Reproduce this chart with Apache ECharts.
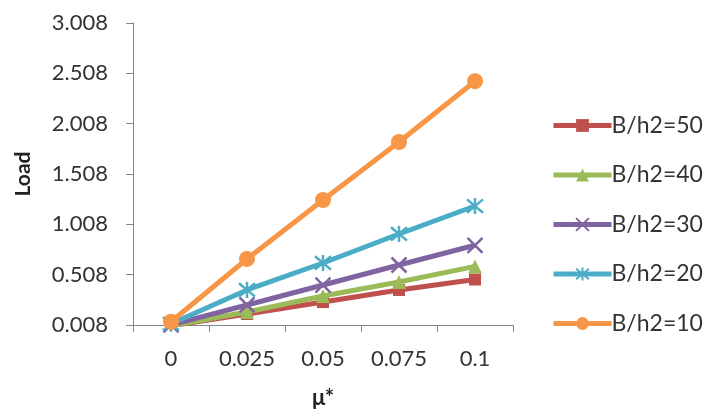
<!DOCTYPE html>
<html>
<head>
<meta charset="utf-8">
<script src="https://cdn.jsdelivr.net/npm/echarts@6/dist/echarts.min.js"></script>
<style>html,body{margin:0;padding:0;background:#fff}#c{width:705px;height:416px}</style>
</head>
<body>
<div id="c"></div>
<script>
var categories = ['0', '0.025', '0.05', '0.075', '0.1'];
var seriesNames = ['B/h2=50', 'B/h2=40', 'B/h2=30', 'B/h2=20', 'B/h2=10'];
var load50 = [0.0, 0.117, 0.236, 0.356, 0.46];
var load40 = [0.0, 0.137, 0.296, 0.435, 0.59];
var load30 = [0.01, 0.207, 0.405, 0.604, 0.80];
var load20 = [0.02, 0.356, 0.624, 0.912, 1.19];
var load10 = [0.04, 0.664, 1.25, 1.826, 2.43];
var yTicks = [0.008, 0.508, 1.008, 1.508, 2.008, 2.508, 3.008];

var colors = ['#C0504D', '#9BBB59', '#8064A2', '#4BACC6', '#F79646'];
var symbols = [
  'rect',
  'triangle',
  'path://M0,0L10,10M10,0L0,10',
  'path://M0,0L10,10M10,0L0,10M5,-1L5,11',
  'circle'
];
var sizes = [12, 14, 15, 16, 16];
var dataSets = [load50, load40, load30, load20, load10];

var font = 'Lato, "Open Sans", sans-serif';
var series = seriesNames.map(function (n, i) {
  return {
    name: n,
    type: 'line',
    data: dataSets[i],
    symbol: symbols[i],
    symbolSize: sizes[i],
    showAllSymbol: true,
    lineStyle: { color: colors[i], width: 5 },
    itemStyle: { color: colors[i], borderColor: colors[i], borderWidth: (i === 2 || i === 3) ? 2.5 : 0 },
    z: 2 + i
  };
});

var chart = echarts.init(document.getElementById('c'), null, { renderer: 'canvas' });
chart.setOption({
  animation: false,
  backgroundColor: '#fff',
  grid: { left: 133, right: 192, top: 23, bottom: 91, containLabel: false },
  xAxis: {
    type: 'category',
    data: categories,
    boundaryGap: true,
    name: 'μ*',
    nameLocation: 'middle',
    nameGap: 62,
    nameTextStyle: { fontFamily: font, fontWeight: 'bold', fontSize: 22, color: '#222' },
    axisLine: { lineStyle: { color: '#868686', width: 1 } },
    axisTick: { show: true, length: 7, alignWithLabel: false, lineStyle: { color: '#868686' } },
    axisLabel: { fontFamily: font, fontSize: 22, color: '#333', margin: 23 },
    splitLine: { show: false }
  },
  yAxis: {
    type: 'value',
    min: 0.008,
    max: 3.008,
    name: 'Load',
    nameLocation: 'middle',
    nameGap: 99,
    nameRotate: 90,
    nameTextStyle: { fontFamily: font, fontWeight: 'bold', fontSize: 21, color: '#222' },
    axisLine: { show: true, lineStyle: { color: '#868686', width: 1 } },
    axisTick: { show: true, length: 7, customValues: yTicks, lineStyle: { color: '#868686' } },
    axisLabel: {
      fontFamily: font, fontSize: 22, color: '#333', margin: 25,
      customValues: yTicks,
      formatter: function (v) { return v.toFixed(3); }
    },
    splitLine: { show: false }
  },
  legend: {
    orient: 'vertical',
    left: 551,
    top: 114,
    padding: 0,
    itemWidth: 58,
    itemHeight: 16,
    itemGap: 26.5,
    data: seriesNames,
    lineStyle: { width: 5 },
    textStyle: { fontFamily: font, fontSize: 23, lineHeight: 22, color: '#333', padding: [0, 0, 0, -5] }
  },
  series: series
});
</script>
</body>
</html>
